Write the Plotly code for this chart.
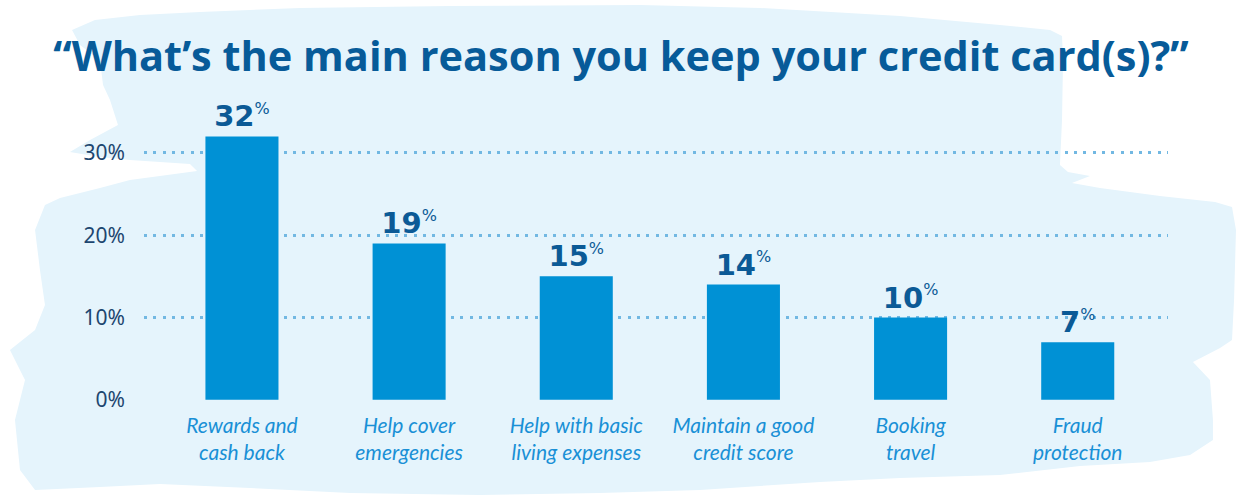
import plotly.graph_objects as go

# Survey answers: main reason respondents keep their credit card(s)
categories = [
    "Rewards and<br>cash back",
    "Help cover<br>emergencies",
    "Help with basic<br>living expenses",
    "Maintain a good<br>credit score",
    "Booking<br>travel",
    "Fraud<br>protection",
]
shares = [32, 19, 15, 14, 10, 7]
tick_values = [0, 10, 20, 30]
tick_labels = ["0%", "10%", "20%", "30%"]

W, H = 1242, 501
M_L, M_R, M_T, M_B = 144, 74, 87, 101
PLOT_W = W - M_L - M_R
PLOT_H = H - M_T - M_B

# Outline of the painted backdrop, in page pixels
backdrop = [
    (72, 30), (95, 20), (140, 15), (200, 12), (300, 8), (450, 6), (640, 5),
    (760, 8), (900, 16), (1000, 25), (1050, 30), (1062, 36), (1063, 60),
    (1062, 120), (1060, 165), (1068, 172), (1090, 176), (1072, 183),
    (1100, 188), (1160, 196), (1215, 202), (1232, 207), (1236, 230),
    (1234, 300), (1232, 340), (1220, 348), (1193, 362), (1210, 380),
    (1213, 420), (1213, 440), (1190, 455), (1150, 462), (1080, 466),
    (1000, 475), (900, 478), (820, 482), (700, 490), (600, 493), (480, 495),
    (350, 493), (250, 488), (160, 484), (100, 487), (35, 490), (20, 470),
    (15, 420), (25, 380), (10, 350), (35, 330), (45, 305), (40, 270),
    (35, 230), (45, 205), (60, 198), (100, 188), (130, 180), (197, 171),
    (190, 164), (130, 160), (100, 157), (70, 152), (90, 140), (118, 125),
    (110, 100), (103, 85), (100, 60), (80, 45),
]


def to_paper(px, py):
    return (px - M_L) / PLOT_W, (H - M_B - py) / PLOT_H


pts = [to_paper(x, y) for x, y in backdrop]
path = "M " + " L ".join(f"{x:.4f},{y:.4f}" for x, y in pts) + " Z"

fig = go.Figure(
    go.Bar(
        x=list(range(len(categories))),
        y=shares,
        width=0.437,
        marker=dict(color="#0091d5", line=dict(width=0)),
        text=[f"<b>{v}</b><sup><span style='font-size:16px'>%</span></sup>"
              for v in shares],
        texttemplate="%{text}",
        textposition="outside",
        constraintext="none",
        cliponaxis=False,
        textfont=dict(family="DejaVu Sans", size=29, color="#0b5a96"),
        hoverinfo="skip",
    )
)

fig.update_layout(
    width=W,
    height=H,
    margin=dict(l=M_L, r=M_R, t=M_T, b=M_B),
    paper_bgcolor="white",
    plot_bgcolor="rgba(0,0,0,0)",
    showlegend=False,
    title=dict(
        text="<b>“What’s the main reason you keep your credit card(s)?”</b>",
        font=dict(family="Open Sans", size=41.5, color="#075b99"),
        x=0.5,
        xref="container",
        xanchor="center",
        y=1 - 56 / H,
        yref="container",
        yanchor="middle",
    ),
    shapes=[
        dict(
            type="path",
            path=path,
            xref="paper",
            yref="paper",
            fillcolor="#e5f4fc",
            line=dict(width=0),
            layer="below",
        )
    ],
    xaxis=dict(
        range=[-0.586, 5.54],
        tickmode="array",
        tickvals=list(range(len(categories))),
        ticktext=[f"<i>{c}</i>" for c in categories],
        tickfont=dict(family="Lato", size=21, color="#1990d6"),
        showgrid=False,
        zeroline=False,
        showline=False,
        ticks="",
        ticklabelstandoff=11,
    ),
    yaxis=dict(
        range=[-0.02, 38],
        tickmode="array",
        tickvals=tick_values,
        ticktext=tick_labels,
        tickfont=dict(family="Noto Sans", size=21, color="#1d4670"),
        showgrid=True,
        gridcolor="#72b8e2",
        gridwidth=3,
        griddash="3px,6.3px",
        zeroline=False,
        showline=False,
        ticks="",
        ticklabelstandoff=18,
    ),
)

fig.write_html("out.html")
